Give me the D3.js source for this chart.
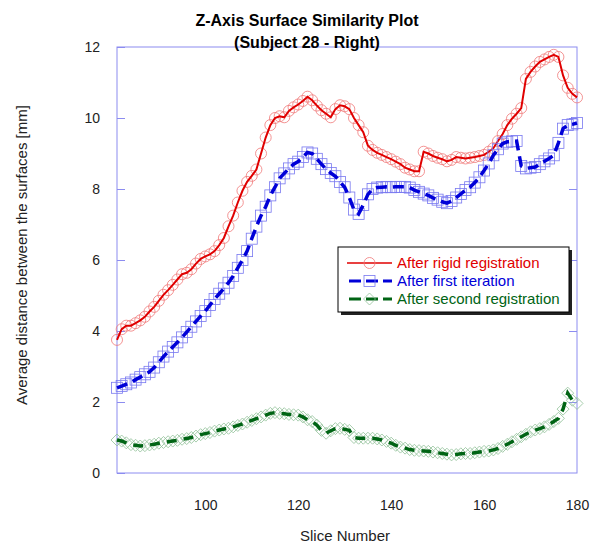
<!DOCTYPE html>
<html>
<head>
<meta charset="utf-8">
<script src="https://cdn.jsdelivr.net/npm/d3@7"></script>
<style>
  body { margin: 0; background: #fff; }
  text { font-family: Arial, "Liberation Sans", sans-serif; }
</style>
</head>
<body>
<svg id="chart" width="590" height="543"></svg>
<script>
// slice numbers 81..180
var slices = d3.range(81, 181);

var rigid = [3.75, 4.05, 4.15, 4.15, 4.22, 4.3, 4.4, 4.55, 4.68, 4.85,
  5.02, 5.15, 5.3, 5.45, 5.6, 5.64, 5.74, 5.9, 6.03, 6.1,
  6.16, 6.25, 6.42, 6.62, 6.95, 7.25, 7.62, 7.95, 8.2, 8.37,
  8.55, 9.0, 9.45, 9.8, 10.0, 10.05, 10.02, 10.2, 10.3, 10.38,
  10.48, 10.6, 10.5, 10.35, 10.22, 10.12, 10.02, 10.25, 10.36, 10.33,
  10.25, 10.0, 9.8, 9.6, 9.22, 9.1, 9.02, 8.96, 8.9, 8.84,
  8.77, 8.7, 8.6, 8.55, 8.5, 8.5, 9.05, 9.0, 8.93, 8.88,
  8.84, 8.78, 8.82, 8.9, 8.88, 8.86, 8.88, 8.9, 8.93, 8.96,
  9.05, 9.15, 9.35, 9.55, 9.8, 9.98, 10.12, 10.28, 11.1, 11.3,
  11.45, 11.58, 11.65, 11.72, 11.78, 11.72, 11.2, 10.85, 10.68, 10.58];

var firstIter = [2.4, 2.45, 2.5, 2.55, 2.63, 2.7, 2.78, 2.85, 2.97, 3.12,
  3.28, 3.42, 3.55, 3.68, 3.82, 3.97, 4.12, 4.27, 4.42, 4.56,
  4.73, 4.9, 5.05, 5.2, 5.36, 5.55, 5.78, 6.0, 6.25, 6.6,
  6.94, 7.25, 7.5, 7.82, 8.05, 8.3, 8.44, 8.58, 8.7, 8.77,
  8.9, 9.03, 9.0, 8.85, 8.7, 8.56, 8.45, 8.36, 8.2, 8.05,
  7.76, 7.42, 7.3, 7.55, 7.85, 8.0, 8.04, 8.05, 8.06, 8.05,
  8.06, 8.06, 8.06, 8.04, 7.97, 7.92, 7.87, 7.82, 7.75, 7.7,
  7.64, 7.6, 7.66, 7.76, 7.86, 7.97, 8.05, 8.18, 8.33, 8.52,
  8.72, 8.95, 9.12, 9.28, 9.33, 9.34, 9.35, 8.65, 8.58, 8.6,
  8.62, 8.7, 8.78, 8.86, 8.95, 9.3, 9.7, 9.8, 9.82, 9.86];

var secondReg = [0.93, 0.9, 0.85, 0.8, 0.78, 0.76, 0.77, 0.79, 0.81, 0.84,
  0.86, 0.88, 0.9, 0.92, 0.95, 0.97, 1.0, 1.04, 1.08, 1.11,
  1.14, 1.18, 1.21, 1.24, 1.26, 1.3, 1.34, 1.38, 1.43, 1.48,
  1.53, 1.58, 1.63, 1.68, 1.7, 1.68, 1.67, 1.65, 1.64, 1.63,
  1.58, 1.5, 1.45, 1.35, 1.2, 1.12, 1.19, 1.25, 1.26, 1.23,
  1.2, 1.0, 0.98, 0.98, 0.98, 0.98, 0.96, 0.93, 0.89, 0.84,
  0.78, 0.73, 0.7, 0.66, 0.64, 0.63, 0.62, 0.61, 0.59, 0.57,
  0.55, 0.53, 0.51, 0.52, 0.54, 0.55, 0.55, 0.57, 0.59, 0.61,
  0.62, 0.65, 0.69, 0.75, 0.81, 0.88, 0.95, 1.02, 1.09, 1.16,
  1.21, 1.25, 1.3, 1.37, 1.45, 1.54, 1.8, 2.25, 2.05, 1.96];

var xTicks = [100, 120, 140, 160, 180];
var yTicks = [0, 2, 4, 6, 8, 10, 12];

var svg = d3.select("#chart");
var plotLeft = 117, plotRight = 577, plotTop = 47, plotBottom = 473;

var x = d3.scaleLinear().domain([81, 180]).range([plotLeft, plotRight]);
var y = d3.scaleLinear().domain([0, 12]).range([plotBottom, plotTop]);

var axisColor = "#8c8cf0";

// axes box
svg.append("rect")
  .attr("x", plotLeft).attr("y", plotTop)
  .attr("width", plotRight - plotLeft).attr("height", plotBottom - plotTop)
  .attr("fill", "none").attr("stroke", axisColor).attr("stroke-width", 1);

// y ticks left and right, pointing in
var yAxisL = d3.axisLeft(y).tickValues(yTicks).tickSizeInner(-8).tickSizeOuter(0).tickPadding(17);
var gL = svg.append("g").attr("transform", "translate(" + plotLeft + ",0)").call(yAxisL);
gL.select(".domain").remove();
gL.selectAll("line").attr("stroke", axisColor);
gL.selectAll("text").attr("font-size", 14).attr("fill", "#222");

var yAxisR = d3.axisRight(y).tickValues(yTicks.slice(1, -1)).tickSizeInner(-8).tickSizeOuter(0).tickFormat("");
var gR = svg.append("g").attr("transform", "translate(" + plotRight + ",0)").call(yAxisR);
gR.select(".domain").remove();
gR.selectAll("line").attr("stroke", axisColor);

// x labels (no visible tick marks)
var xAxis = d3.axisBottom(x).tickValues(xTicks).tickSize(0).tickPadding(27);
var gX = svg.append("g").attr("transform", "translate(0," + plotBottom + ")").call(xAxis);
gX.select(".domain").remove();
gX.selectAll("text").attr("font-size", 14).attr("fill", "#222");

// titles
svg.append("text").attr("x", 307).attr("y", 26).attr("text-anchor", "middle")
  .attr("font-size", 16).attr("font-weight", "bold").text("Z-Axis Surface Similarity Plot");
svg.append("text").attr("x", 307).attr("y", 48).attr("text-anchor", "middle")
  .attr("font-size", 16).attr("font-weight", "bold").text("(Subject 28 - Right)");

svg.append("text").attr("x", 345).attr("y", 541).attr("text-anchor", "middle")
  .attr("font-size", 15).attr("fill", "#222").text("Slice Number");

svg.append("text").attr("transform", "translate(27,255) rotate(-90)")
  .attr("text-anchor", "middle").attr("font-size", 15).attr("fill", "#222")
  .text("Average distance between the surfaces [mm]");

var series = [
  {name: "After rigid registration", values: rigid, color: "#e00000", mark: "#f07878", shape: "circle", dash: null},
  {name: "After first iteration", values: firstIter, color: "#0000d8", mark: "#7878f0", shape: "square", dash: "11,6"},
  {name: "After second registration", values: secondReg, color: "#006414", mark: "#90c098", shape: "diamond", dash: "10,7"}
];

var line = d3.line().x(function(d) { return x(d[0]); }).y(function(d) { return y(d[1]); });

function drawMarker(g, shape, cx, cy, color) {
  if (shape === "circle") {
    g.append("circle").attr("cx", cx).attr("cy", cy).attr("r", 5.5)
      .attr("fill", "none").attr("stroke", color).attr("stroke-width", 0.8);
  } else if (shape === "square") {
    g.append("rect").attr("x", cx - 5.5).attr("y", cy - 5.5).attr("width", 11).attr("height", 11)
      .attr("fill", "none").attr("stroke", color).attr("stroke-width", 0.8);
  } else {
    g.append("path").attr("d", "M" + cx + "," + (cy - 6) + "L" + (cx + 6) + "," + cy + "L" + cx + "," + (cy + 6) + "L" + (cx - 6) + "," + cy + "Z")
      .attr("fill", "none").attr("stroke", color).attr("stroke-width", 0.8);
  }
}

series.forEach(function(s) {
  var pts = slices.map(function(sl, i) { return [sl, s.values[i]]; });
  var g = svg.append("g");
  pts.forEach(function(p) { drawMarker(g, s.shape, x(p[0]), y(p[1]), s.mark); });
  g.append("path").datum(pts).attr("d", line)
    .attr("fill", "none").attr("stroke", s.color)
    .attr("stroke-width", s.dash ? 3.5 : 2)
    .attr("stroke-dasharray", s.dash);
});

// legend
var lx = 338, ly = 247, lw = 231, lh = 65;
svg.append("rect").attr("x", lx + 3).attr("y", ly + 3).attr("width", lw).attr("height", lh).attr("fill", "#222");
svg.append("rect").attr("x", lx).attr("y", ly).attr("width", lw).attr("height", lh)
  .attr("fill", "#fff").attr("stroke", "#000").attr("stroke-width", 1);

series.forEach(function(s, i) {
  var yy = ly + 16 + i * 18;
  var g = svg.append("g");
  g.append("line").attr("x1", 347).attr("x2", 392).attr("y1", yy).attr("y2", yy)
    .attr("stroke", s.color).attr("stroke-width", s.dash ? 3 : 1.5)
    .attr("stroke-dasharray", s.dash ? "12,5" : null)
    .attr("stroke-dashoffset", s.dash ? -2 : null);
  drawMarker(g, s.shape, 369.5, yy, s.mark);
  g.append("text").attr("x", 397).attr("y", yy + 5).attr("font-size", 15)
    .attr("fill", s.color).text(s.name);
});
</script>
</body>
</html>
